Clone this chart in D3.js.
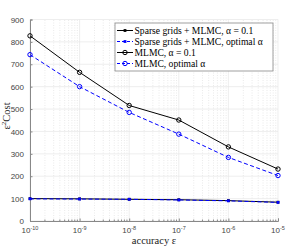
<!DOCTYPE html>
<html>
<head>
<meta charset="utf-8">
<script src="https://cdn.jsdelivr.net/npm/d3@7"></script>
<style>
  body { margin: 0; background: #fff; }
  svg { display: block; }
  .serif { font-family: "Liberation Serif", "Times New Roman", serif; }
  .sans { font-family: "Liberation Sans", Arial, sans-serif; }
</style>
</head>
<body>
<div id="chart"></div>
<script>
const accuracy = [1e-10, 1e-9, 1e-8, 1e-7, 1e-6, 1e-5];
const sparseAlpha = [100, 99, 97, 95, 91, 84];
const sparseOpt = [99, 98, 97, 94, 90, 83];
const mlmcAlpha = [827, 664, 516, 451, 331, 232];
const mlmcOpt = [743, 600, 485, 388, 284, 203];
const yTicks = [0, 100, 200, 300, 400, 500, 600, 700, 800, 900];
const xTickExp = [-10, -9, -8, -7, -6, -5];
const legendLabels = [
  'Sparse grids + MLMC, \u03b1 = 0.1',
  'Sparse grids + MLMC, optimal \u03b1',
  'MLMC, \u03b1 = 0.1',
  'MLMC, optimal \u03b1'
];

const W = 287, H = 249;
const margin = {top: 19.5, right: 9, bottom: 28, left: 30};

const svg = d3.select('#chart').append('svg')
    .attr('width', W)
    .attr('height', H);

const x = d3.scaleLog().domain([1e-10, 1e-5]).range([margin.left, W - margin.right]);
const y = d3.scaleLinear().domain([0, 900]).range([H - margin.bottom, margin.top]);

// minor grid (x only)
const minor = [];
for (let e = -10; e < -5; e++) {
  for (let m = 2; m <= 9; m++) minor.push(m * Math.pow(10, e));
}
svg.append('g').selectAll('line')
    .data(minor)
    .join('line')
    .attr('x1', d => x(d)).attr('x2', d => x(d))
    .attr('y1', y(0)).attr('y2', y(900))
    .attr('stroke', '#dcdcdc')
    .attr('stroke-width', 0.6)
    .attr('stroke-dasharray', '1,1.5');

// major grid
const grid = svg.append('g').attr('stroke', '#e6e6e6').attr('stroke-width', 0.7);
grid.selectAll('.gx')
    .data(accuracy)
    .join('line')
    .attr('x1', d => x(d)).attr('x2', d => x(d))
    .attr('y1', y(0)).attr('y2', y(900));
grid.selectAll('.gy')
    .data(yTicks)
    .join('line')
    .attr('x1', x(1e-10)).attr('x2', x(1e-5))
    .attr('y1', d => y(d)).attr('y2', d => y(d));

// axes
const xAxis = svg.append('g')
    .attr('transform', `translate(0, ${y(0)})`)
    .call(d3.axisBottom(x).tickValues(accuracy).tickSize(-2.5).tickFormat(''));
xAxis.append('g').selectAll('line')
    .data(minor)
    .join('line')
    .attr('x1', d => x(d)).attr('x2', d => x(d))
    .attr('y1', 0).attr('y2', -1.5)
    .attr('stroke', '#888');
xAxis.selectAll('.tick text').remove();
xAxis.selectAll('.tickLabel')
    .data(xTickExp)
    .join('text')
    .attr('class', 'sans')
    .attr('x', (d, i) => x(accuracy[i]))
    .attr('y', 12)
    .attr('text-anchor', 'middle')
    .attr('fill', '#444')
    .attr('font-size', 8)
    .each(function(d) {
      const t = d3.select(this);
      t.append('tspan').text('10');
      t.append('tspan').attr('dy', -3.5).attr('font-size', 5.5).text(d);
    });

const yAxis = svg.append('g')
    .attr('transform', `translate(${x(1e-10)}, 0)`)
    .call(d3.axisLeft(y).tickValues(yTicks).tickSize(-2.5).tickPadding(6));
yAxis.selectAll('text')
    .attr('class', 'sans')
    .attr('font-family', null)
    .attr('fill', '#444')
    .attr('font-size', 8);
yAxis.attr('font-family', null);
xAxis.attr('font-family', null);

svg.selectAll('.domain').attr('stroke', '#888');
svg.selectAll('.tick line').attr('stroke', '#888');

// series
const series = [
  {values: sparseAlpha, color: '#000', dash: null, marker: 'dot'},
  {values: sparseOpt, color: '#00f', dash: '4,2.5', marker: 'dot'},
  {values: mlmcAlpha, color: '#000', dash: null, marker: 'circle'},
  {values: mlmcOpt, color: '#00f', dash: '4,2.5', marker: 'circle'}
];

const line = d3.line()
    .x((d, i) => x(accuracy[i]))
    .y(d => y(d));

function drawMarker(g, m, color, cx, cy) {
  if (m === 'dot') {
    g.append('rect')
        .attr('x', cx - 1.4).attr('y', cy - 1.4)
        .attr('width', 2.8).attr('height', 2.8)
        .attr('fill', color);
  } else {
    g.append('circle')
        .attr('cx', cx).attr('cy', cy).attr('r', 2.2)
        .attr('fill', 'none')
        .attr('stroke', color)
        .attr('stroke-width', 1);
  }
}

series.forEach(s => {
  svg.append('path')
      .datum(s.values)
      .attr('fill', 'none')
      .attr('stroke', s.color)
      .attr('stroke-width', 1)
      .attr('stroke-dasharray', s.dash)
      .attr('d', line);
  const g = svg.append('g');
  s.values.forEach((v, i) => drawMarker(g, s.marker, s.color, x(accuracy[i]), y(v)));
});

// legend
const lg = svg.append('g').attr('transform', 'translate(115, 23)');
lg.append('rect')
    .attr('x', 0).attr('y', 0)
    .attr('width', 158).attr('height', 48)
    .attr('fill', '#fff')
    .attr('stroke', '#888')
    .attr('stroke-width', 0.8);
legendLabels.forEach((label, i) => {
  const s = series[i];
  const yy = 7.5 + i * 11;
  lg.append('line')
      .attr('x1', 2).attr('x2', 18)
      .attr('y1', yy).attr('y2', yy)
      .attr('stroke', s.color)
      .attr('stroke-width', 1)
      .attr('stroke-dasharray', s.dash ? '3,2' : null);
  drawMarker(lg, s.marker, s.color, 10, yy);
  lg.append('text')
      .attr('class', 'serif')
      .attr('x', 19.5).attr('y', yy + 3.3)
      .attr('font-size', 9.6)
      .attr('fill', '#000')
      .text(label);
});

// axis labels
svg.append('text')
    .attr('class', 'serif')
    .attr('x', 154).attr('y', 244)
    .attr('text-anchor', 'middle')
    .attr('font-size', 10.5)
    .attr('fill', '#222')
    .text('accuracy \u03b5');

const yl = svg.append('text')
    .attr('class', 'serif')
    .attr('transform', 'translate(10, 116) rotate(-90)')
    .attr('text-anchor', 'middle')
    .attr('font-size', 10.5)
    .attr('fill', '#222');
yl.append('tspan').text('\u03b5');
yl.append('tspan').attr('dy', -4).attr('font-size', 7).text('2');
yl.append('tspan').attr('dy', 4).text('Cost');
</script>
</body>
</html>
